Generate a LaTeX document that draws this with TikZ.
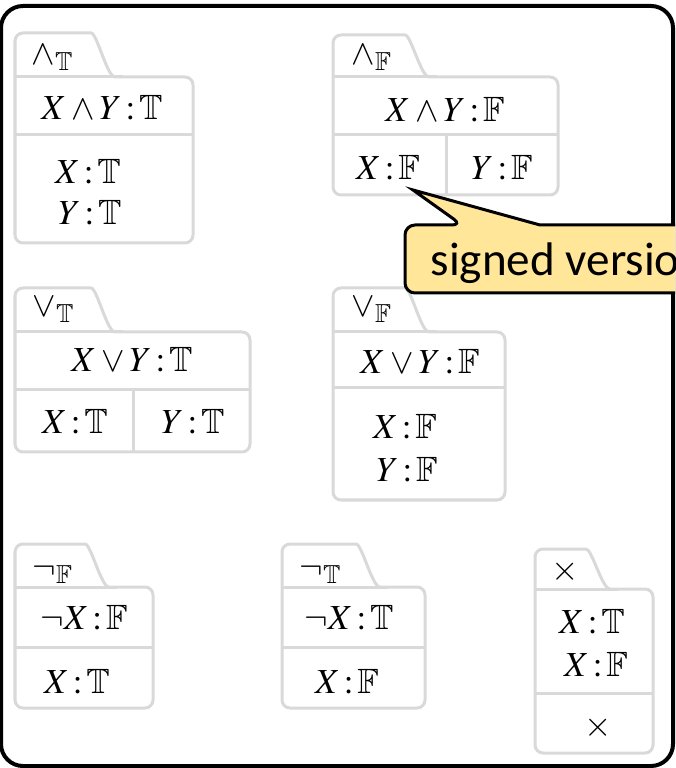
\documentclass[tikz,border=0pt]{standalone}
\usepackage{mathptmx}
\usepackage{amssymb}
\usepackage[no-math]{fontspec}
\newfontfamily\notefont{Carlito}
\usepackage{xcolor}

\definecolor{cardgray}{RGB}{217,217,217}
\definecolor{notefill}{RGB}{255,230,153}

\newcommand{\sgn}[2]{#1\,{:}\,\mathbb{#2}}

\tikzset{
  cardline/.style={draw=cardgray, line width=0.03cm, rounded corners=0.08cm},
  rulehead/.style={inner sep=0pt, anchor=base west, font=\fontsize{10}{12}\selectfont},
  formula/.style={inner sep=0pt, font=\fontsize{10}{12}\selectfont},
  frame/.style={draw=black, line width=0.04cm, rounded corners=0.22cm},
  note/.style={draw=black, fill=notefill, line width=0.03cm},
}

% tab card: left, tab top, body top, right, bottom, divider, tab width
\newcommand{\tabcard}[7]{
  \draw[cardline] (#1,#5) -- (#1,#2) -- ({#1+#7},#2)
    .. controls ({#1+#7+14},#2) and ({#1+#7+24},#3) .. ({#1+#7+40},#3)
    -- (#4,#3) -- (#4,#5) -- cycle;
  \draw[cardline] (#1,#3) -- ({#1+#7+40},#3) (#1,#6) -- (#4,#6);
}

\begin{document}
\begin{tikzpicture}[x=0.01cm, y=-0.01cm]
  \useasboundingbox (0,0) rectangle (675,768);
  \clip (0,0) rectangle (675,768);

  \draw[frame] (1,6) rectangle (673,766);

  \tabcard{15}{33}{77}{193}{243}{135}{68}
  \tabcard{333}{35}{77}{558}{195}{135}{64}
  \draw[cardline] (446,135) -- (446,195);
  \tabcard{15}{288}{332}{250}{452}{390}{68}
  \draw[cardline] (133,390) -- (133,452);
  \tabcard{333}{288}{332}{505}{500}{388}{64}
  \tabcard{15}{544}{587}{153}{708}{647}{62}
  \tabcard{282}{544}{587}{425}{708}{647}{66}
  \tabcard{535}{549}{589}{653}{753}{693}{43}

  \node[rulehead] (andT) at (31,65) {$\wedge_{\mathbb{T}}$};
  \node[formula] (andTmain) at (102,108) {$X\wedge\sgn{Y}{T}$};
  \node[formula] (andTx) at (88,172) {$\sgn{X}{T}$};
  \node[formula] (andTy) at (90,213) {$\sgn{Y}{T}$};

  \node[rulehead] (andF) at (351,65) {$\wedge_{\mathbb{F}}$};
  \node[formula] (andFmain) at (445,110) {$X\wedge\sgn{Y}{F}$};
  \node[formula] (andFx) at (388,168) {$\sgn{X}{F}$};
  \node[formula] (andFy) at (502,168) {$\sgn{Y}{F}$};

  \node[rulehead] (orT) at (32,317) {$\vee_{\mathbb{T}}$};
  \node[formula] (orTmain) at (132,360) {$X\vee\sgn{Y}{T}$};
  \node[formula] (orTx) at (75,422) {$\sgn{X}{T}$};
  \node[formula] (orTy) at (193,422) {$\sgn{Y}{T}$};

  \node[rulehead] (orF) at (351,317) {$\vee_{\mathbb{F}}$};
  \node[formula] (orFmain) at (420,362) {$X\vee\sgn{Y}{F}$};
  \node[formula] (orFx) at (405,427) {$\sgn{X}{F}$};
  \node[formula] (orFy) at (407,470) {$\sgn{Y}{F}$};

  \node[rulehead] (notF) at (32,578) {$\neg_{\mathbb{F}}$};
  \node[formula] (notFmain) at (84,618) {$\neg\sgn{X}{F}$};
  \node[formula] (notFx) at (77,682) {$\sgn{X}{T}$};

  \node[rulehead] (notT) at (299,578) {$\neg_{\mathbb{T}}$};
  \node[formula] (notTmain) at (349,618) {$\neg\sgn{X}{T}$};
  \node[formula] (notTx) at (347,682) {$\sgn{X}{F}$};

  \node[formula] (clash) at (565,572) {$\times$};
  \node[formula] (clashT) at (592,622) {$\sgn{X}{T}$};
  \node[formula] (clashF) at (596,665) {$\sgn{X}{F}$};
  \node[formula] (clashX) at (598,728) {$\times$};

  \draw[note] (462,225) -- (413,190) -- (540,225) [rounded corners=0.1cm]
    -- (760,225) -- (760,293) -- (405,293) -- (405,225) -- cycle;
  \node[inner sep=0pt, anchor=base west, font=\notefont\fontsize{13.4}{15}\selectfont]
    (signed) at (430,276) {signed version};
\end{tikzpicture}
\end{document}
